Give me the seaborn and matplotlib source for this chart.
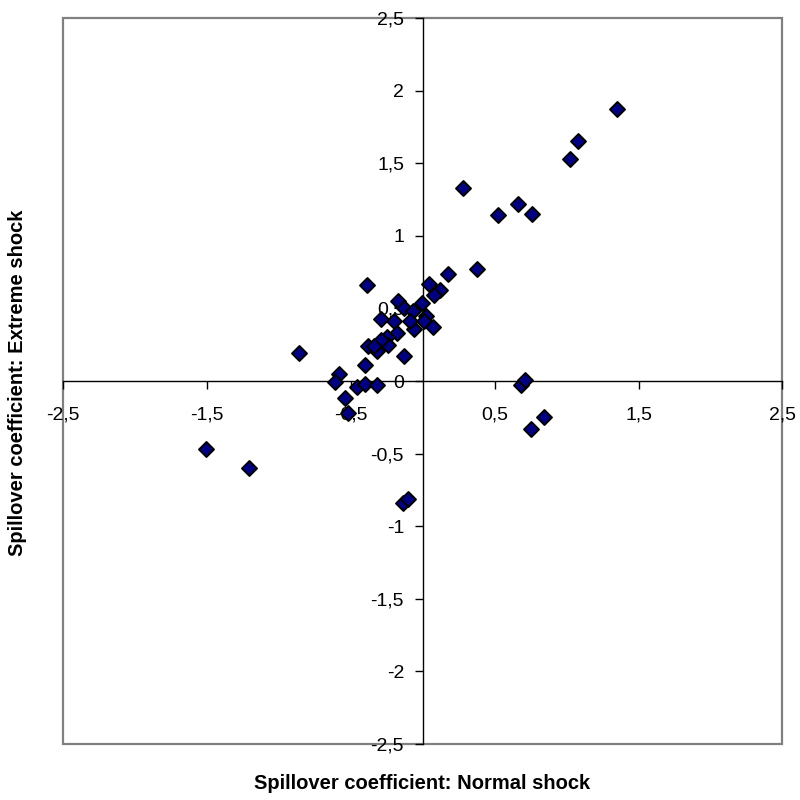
import pandas as pd
import matplotlib.pyplot as plt
import seaborn as sns
from matplotlib.patches import Rectangle
from matplotlib.ticker import FuncFormatter

# --- DATA ---
normal_shock = [1.35, 1.08, 1.02, 0.28, 0.52, 0.66, 0.76, 0.68, 0.71, 0.755,
                0.84, -0.14, -0.105, -1.51, -1.21, -0.86, -0.39, 0.04, 0.12, 0.08,
                0.175, 0.38, -0.17, -0.13, -0.005, -0.07, 0.02, 0.01, 0.07, -0.06,
                -0.09, -0.20, -0.29, -0.18, -0.25, -0.24, -0.29, -0.38, -0.32, -0.13,
                -0.40, -0.58, -0.61, -0.46, -0.40, -0.32, -0.54, -0.52, -0.34]
extreme_shock = [1.87, 1.65, 1.53, 1.33, 1.14, 1.22, 1.15, -0.03, 0.01, -0.33,
                 -0.25, -0.84, -0.81, -0.47, -0.60, 0.195, 0.66, 0.67, 0.63, 0.59,
                 0.735, 0.77, 0.55, 0.50, 0.54, 0.48, 0.45, 0.41, 0.37, 0.36,
                 0.415, 0.41, 0.425, 0.33, 0.305, 0.25, 0.28, 0.24, 0.21, 0.17,
                 0.11, 0.05, -0.01, -0.04, -0.02, -0.03, -0.12, -0.22, 0.24]
x_ticks = [-2.5, -1.5, -0.5, 0.5, 1.5, 2.5]
y_ticks = [-2.5, -2, -1.5, -1, -0.5, 0, 0.5, 1, 1.5, 2, 2.5]

df = pd.DataFrame({'Normal': normal_shock, 'Extreme': extreme_shock})

sns.set_style("white")
plt.rcParams['font.family'] = ['Liberation Sans', 'DejaVu Sans']
plt.rcParams['text.color'] = 'black'

fig = plt.figure(figsize=(8, 8), dpi=100)
ax = fig.add_axes([0.079, 0.07, 0.899, 0.9075])

sns.scatterplot(data=df, x='Normal', y='Extreme', marker='D', s=58,
                color='#000080', edgecolor='black', linewidth=1.4,
                zorder=3, clip_on=False, ax=ax)

ax.set_xlim(-2.5, 2.5)
ax.set_ylim(-2.5, 2.5)
ax.set_xticks(x_ticks)
ax.set_yticks(y_ticks)
comma = FuncFormatter(lambda v, _: f"{v:g}".replace('.', ','))
ax.xaxis.set_major_formatter(comma)
ax.yaxis.set_major_formatter(comma)

# axes crossing at the origin, like Excel
for side in ['left', 'bottom']:
    ax.spines[side].set_position('zero')
    ax.spines[side].set_color('black')
    ax.spines[side].set_linewidth(1.0)
for side in ['top', 'right']:
    ax.spines[side].set_visible(False)
ax.tick_params(axis='x', bottom=True, direction='out', length=5.5, width=1,
               pad=13, labelsize=14, colors='black')
ax.tick_params(axis='y', left=True, direction='out', length=5.5, width=1,
               pad=8, labelsize=14, colors='black')
ax.set_xlabel('')
ax.set_ylabel('')

# grey plot-area frame
ax.add_patch(Rectangle((0, 0), 1, 1, transform=ax.transAxes, fill=False,
                       edgecolor='#808080', linewidth=1.6, zorder=0.5,
                       clip_on=False))

fig.text(0.5275, 0.021, 'Spillover coefficient: Normal shock',
         ha='center', va='center', fontsize=14.5, fontweight='bold', color='black')
fig.text(0.022, 0.521, 'Spillover coefficient: Extreme shock',
         ha='center', va='center', rotation=90, fontsize=14.5, fontweight='bold',
         color='black')

plt.savefig('out.png', dpi=100)
plt.close()
